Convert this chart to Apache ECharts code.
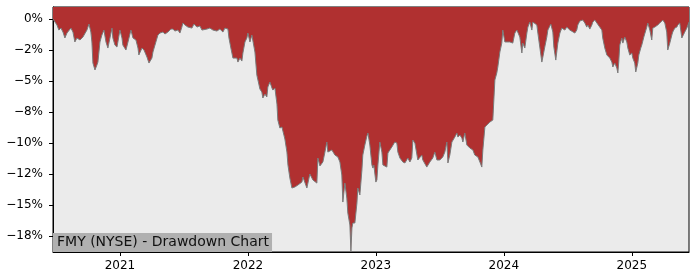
<!DOCTYPE html>
<html>
<head>
<meta charset="utf-8">
<script src="https://cdn.jsdelivr.net/npm/echarts@6/dist/echarts.min.js"></script>
<style>html,body{margin:0;padding:0;background:#fff}#c{width:700px;height:280px}</style>
</head>
<body>
<div id="c"></div>
<script>
const chartTitle = 'FMY (NYSE) - Drawdown Chart';
const xTickValues = [2021, 2022, 2023, 2024, 2025];
const xTickLabels = ['2021', '2022', '2023', '2024', '2025'];
const yTickValues = [0, -2.5, -5, -7.5, -10, -12.5, -15, -17.5];
const yTickLabels = ['0%', '\u22122%', '\u22125%', '\u22128%', '\u221210%', '\u221212%', '\u221215%', '\u221218%'];
const xRange = [2020.477, 2025.447];
const yRange = [-18.79, 0.97];

// time as fractional year
const years = [
2020.477,2020.492,2020.508,2020.523,2020.539,2020.555,2020.570,2020.586,2020.594,2020.617,
2020.633,2020.648,2020.664,2020.688,2020.711,2020.742,2020.758,2020.773,2020.781,2020.789,
2020.805,2020.820,2020.828,2020.844,2020.859,2020.875,2020.891,2020.906,2020.922,2020.938,
2020.945,2020.961,2020.977,2020.984,2021.000,2021.016,2021.023,2021.047,2021.063,2021.086,
2021.102,2021.125,2021.141,2021.148,2021.172,2021.188,2021.211,2021.227,2021.250,2021.258,
2021.281,2021.297,2021.313,2021.336,2021.352,2021.375,2021.398,2021.414,2021.430,2021.453,
2021.469,2021.484,2021.492,2021.508,2021.531,2021.563,2021.578,2021.602,2021.625,2021.641,
2021.656,2021.680,2021.703,2021.727,2021.758,2021.781,2021.805,2021.820,2021.844,2021.852,
2021.867,2021.883,2021.898,2021.914,2021.922,2021.938,2021.953,2021.961,2021.977,2021.992,
2022.000,2022.016,2022.031,2022.039,2022.055,2022.070,2022.078,2022.094,2022.109,2022.117,
2022.133,2022.148,2022.156,2022.172,2022.188,2022.195,2022.211,2022.227,2022.234,2022.250,
2022.266,2022.273,2022.289,2022.305,2022.313,2022.328,2022.344,2022.367,2022.391,2022.422,
2022.430,2022.445,2022.461,2022.469,2022.484,2022.508,2022.539,2022.547,2022.563,2022.578,
2022.586,2022.602,2022.617,2022.625,2022.656,2022.680,2022.703,2022.719,2022.734,2022.742,
2022.758,2022.773,2022.781,2022.797,2022.805,2022.813,2022.820,2022.836,2022.852,2022.859,
2022.875,2022.891,2022.898,2022.914,2022.930,2022.938,2022.953,2022.969,2022.977,2022.984,
2023.000,2023.008,2023.016,2023.031,2023.047,2023.055,2023.086,2023.094,2023.125,2023.148,
2023.164,2023.172,2023.188,2023.211,2023.227,2023.250,2023.266,2023.281,2023.289,2023.305,
2023.320,2023.328,2023.359,2023.367,2023.398,2023.422,2023.445,2023.461,2023.477,2023.500,
2023.523,2023.539,2023.555,2023.563,2023.578,2023.594,2023.617,2023.633,2023.641,2023.656,
2023.672,2023.680,2023.695,2023.711,2023.734,2023.758,2023.773,2023.797,2023.813,2023.828,
2023.836,2023.852,2023.891,2023.914,2023.930,2023.945,2023.953,2023.969,2023.984,2023.992,
2024.008,2024.047,2024.070,2024.086,2024.102,2024.125,2024.141,2024.148,2024.164,2024.180,
2024.188,2024.203,2024.219,2024.227,2024.258,2024.266,2024.281,2024.297,2024.305,2024.320,
2024.336,2024.344,2024.367,2024.383,2024.391,2024.406,2024.414,2024.422,2024.438,2024.453,
2024.477,2024.492,2024.516,2024.531,2024.555,2024.570,2024.578,2024.594,2024.617,2024.633,
2024.648,2024.656,2024.672,2024.688,2024.695,2024.711,2024.727,2024.734,2024.766,2024.773,
2024.789,2024.805,2024.828,2024.844,2024.852,2024.867,2024.883,2024.891,2024.898,2024.906,
2024.922,2024.930,2024.945,2024.961,2024.969,2024.984,2025.000,2025.008,2025.023,2025.031,
2025.047,2025.055,2025.070,2025.078,2025.094,2025.117,2025.125,2025.141,2025.156,2025.164,
2025.180,2025.195,2025.203,2025.219,2025.242,2025.258,2025.273,2025.281,2025.297,2025.313,
2025.320,2025.336,2025.352,2025.359,2025.375,2025.391,2025.398,2025.414,2025.430,2025.447
];

// drawdown in percent
const drawdown = [
0,-0.16,-0.48,-0.89,-0.73,-1.05,-1.53,-1.13,-1.05,-0.73,
-1.05,-1.85,-1.53,-1.69,-1.45,-0.89,-0.40,-1.05,-1.85,-3.55,
-4.11,-3.71,-3.47,-1.85,-1.29,-0.89,-1.85,-2.34,-1.53,-0.73,
-1.53,-2.10,-2.26,-1.85,-0.89,-1.53,-2.10,-2.50,-1.85,-0.89,
-1.53,-1.69,-2.34,-2.90,-2.34,-2.50,-3.06,-3.55,-3.15,-2.66,
-1.85,-1.29,-1.13,-1.05,-1.21,-1.05,-0.81,-0.81,-0.97,-0.89,
-1.13,-0.65,-0.32,-0.48,-0.65,-0.73,-0.40,-0.65,-0.56,-0.89,
-1.05,-0.81,-0.73,-0.89,-0.97,-0.81,-1.05,-0.73,-0.81,-1.53,
-2.34,-3.15,-3.31,-3.15,-3.47,-3.15,-3.39,-2.74,-1.85,-1.53,
-1.13,-1.85,-1.29,-1.29,-2.66,-4.52,-4.52,-5.65,-5.89,-6.37,
-6.05,-6.29,-5.48,-5.08,-5.56,-5.73,-5.56,-6.85,-8.15,-8.79,
-8.71,-8.71,-9.68,-10.73,-11.77,-12.82,-13.63,-13.55,-13.39,-13.15,
-12.74,-12.74,-13.63,-13.55,-12.50,-12.98,-13.23,-11.21,-11.85,-11.94,
-11.53,-10.73,-9.92,-10.73,-10.56,-10.97,-11.13,-11.53,-12.58,-14.76,
-13.23,-14.44,-15.65,-16.61,-18.71,-16.85,-16.45,-16.45,-14.84,-13.63,
-14.19,-12.18,-10.97,-10.16,-9.44,-9.19,-10.16,-11.77,-12.02,-11.77,
-13.15,-12.98,-11.77,-9.92,-10.73,-11.77,-11.94,-10.81,-10.32,-9.92,
-10.00,-10.73,-11.21,-11.53,-11.61,-11.21,-11.53,-11.21,-9.76,-10.00,
-10.16,-11.37,-10.97,-11.37,-11.94,-11.53,-11.21,-10.73,-11.37,-11.37,
-11.13,-10.73,-9.92,-11.61,-10.97,-9.92,-9.52,-9.19,-9.52,-9.35,
-9.60,-9.92,-9.19,-10.16,-10.40,-10.56,-10.97,-11.13,-11.53,-11.94,
-10.56,-8.71,-8.31,-8.15,-4.92,-4.35,-3.87,-2.66,-1.94,-0.89,
-1.85,-1.85,-1.94,-1.13,-0.89,-1.45,-2.74,-1.94,-2.34,-1.13,
-0.65,-0.24,-0.89,-0.24,-0.48,-1.13,-2.26,-3.47,-3.06,-2.26,
-1.45,-0.89,-0.40,-1.05,-2.26,-3.31,-3.47,-1.94,-1.13,-0.73,
-0.89,-0.65,-0.89,-0.73,-1.13,-0.89,-0.48,-0.16,-0.08,-0.32,
-0.65,-0.48,-0.81,-0.48,-0.24,-0.08,-0.32,-0.48,-0.89,-1.53,
-2.34,-2.90,-3.15,-3.47,-3.87,-3.55,-3.95,-4.35,-3.47,-2.10,
-1.53,-1.94,-1.45,-1.85,-2.34,-2.90,-2.74,-3.15,-3.55,-4.27,
-3.55,-2.90,-2.34,-2.10,-1.45,-0.65,-0.32,-0.89,-1.69,-0.73,
-0.65,-0.73,-0.48,-0.32,-0.08,-0.32,-1.05,-2.50,-1.94,-1.29,
-1.05,-0.73,-0.65,-0.48,-0.32,-1.53,-1.45,-1.05,-0.73,-0.24
];

function pickLabel(vals, labels, v) {
  for (let i = 0; i < vals.length; i++) {
    if (Math.abs(vals[i] - v) < 1e-6) return labels[i];
  }
  return '';
}

const FONT = 'DejaVu Sans';
const chart = echarts.init(document.getElementById('c'), null, {renderer: 'canvas'});
chart.setOption({
  animation: false,
  backgroundColor: '#ffffff',
  title: {
    text: chartTitle,
    left: 53,
    bottom: 28,
    padding: [2, 3, 2, 4],
    backgroundColor: '#b0b0b0',
    z: 10,
    textStyle: {fontFamily: FONT, fontSize: 14, fontWeight: 'normal', color: '#111', lineHeight: 15}
  },
  grid: {
    left: 53, right: 11, top: 7, bottom: 28,
    show: true, backgroundColor: '#ebebeb', borderColor: '#000', borderWidth: 1
  },
  xAxis: {
    type: 'value',
    min: xRange[0], max: xRange[1],
    splitLine: {show: false},
    axisLine: {show: true, onZero: false, lineStyle: {color: '#000', width: 1}},
    axisTick: {show: true, customValues: xTickValues, length: 4, lineStyle: {color: '#000', width: 1}},
    axisLabel: {
      customValues: xTickValues,
      formatter: v => pickLabel(xTickValues, xTickLabels, v),
      margin: 8, fontFamily: FONT, fontSize: 12, color: '#000'
    }
  },
  yAxis: {
    type: 'value',
    min: yRange[0], max: yRange[1],
    splitLine: {show: false},
    axisLine: {show: true, onZero: false, lineStyle: {color: '#000', width: 1}},
    axisTick: {show: true, customValues: yTickValues, length: 4, lineStyle: {color: '#000', width: 1}},
    axisLabel: {
      customValues: yTickValues,
      formatter: v => pickLabel(yTickValues, yTickLabels, v),
      margin: 10, fontFamily: FONT, fontSize: 12, color: '#000'
    }
  },
  series: [{
    type: 'line',
    data: years.map((t, i) => [t, drawdown[i]]),
    symbol: 'none',
    showSymbol: false,
    clip: true,
    lineStyle: {color: '#7a7a7a', width: 1},
    areaStyle: {color: '#b03030', opacity: 1, origin: 'end'}
  }]
});
</script>
</body>
</html>
